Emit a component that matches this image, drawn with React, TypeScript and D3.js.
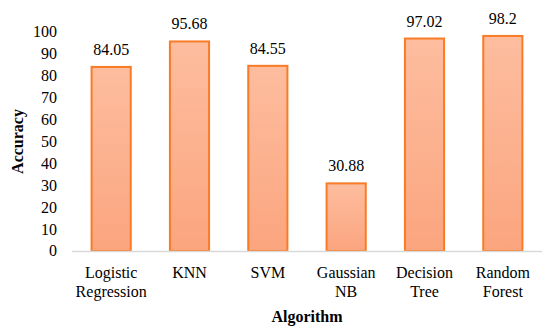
import * as d3 from "d3"
import React from "react"

// chart values
const algorithms = ["Logistic Regression", "KNN", "SVM", "Gaussian NB", "Decision Tree", "Random Forest"]
const accuracy = [84.05, 95.68, 84.55, 30.88, 97.02, 98.2]
const yTicks = [0, 10, 20, 30, 40, 50, 60, 70, 80, 90, 100]

const width = 550
const height = 333
const margins = { left: 72, right: 8, top: 32, bottom: 82 }
const font = { fontFamily: `"Liberation Serif"`, fontSize: 16 }

const App = () => {
    const scaleX = d3.scaleBand()
                    .domain(algorithms)
                    .range([margins.left, width - margins.right])
                    .paddingInner(0.5)
                    .paddingOuter(0.25)
    const scaleY = d3.scaleLinear()
                    .domain([0, 100])
                    .range([height - margins.bottom, margins.top])
    const cx = (a: string) => scaleX(a)! + scaleX.bandwidth() / 2

    return (
        <svg width={width} height={height}
             style={{ position: "absolute", left: 0, top: 0, background: "#fff" }}>
            <defs>
                <linearGradient id="barGrad" x1={0} y1={0} x2={0} y2={1}>
                    <stop offset="0%" stopColor="#fdbd9f" />
                    <stop offset="100%" stopColor="#fba57e" />
                </linearGradient>
            </defs>

            {/* y tick labels, no axis line */}
            {yTicks.map(t => (
                <text key={t} x={margins.left - 15} y={scaleY(t)} dy="0.34em"
                      textAnchor="end" style={font}>{t}</text>
            ))}

            {/* bars */}
            {accuracy.map((v, i) => (
                <rect key={algorithms[i]} x={scaleX(algorithms[i])} y={scaleY(v)}
                      width={scaleX.bandwidth()} height={scaleY(0) - scaleY(v)}
                      fill="url(#barGrad)" stroke="#f97b25" strokeWidth={2} />
            ))}

            <line x1={margins.left} x2={width - margins.right}
                  y1={scaleY(0) + 0.5} y2={scaleY(0) + 0.5}
                  stroke="#d9d9d9" strokeWidth={1.5} />

            {/* value labels */}
            {accuracy.map((v, i) => (
                <text key={"v" + i} x={cx(algorithms[i])} y={scaleY(v) - 12}
                      textAnchor="middle" style={font}>{v}</text>
            ))}

            {/* category labels */}
            {algorithms.map(a => (
                <text key={"c" + a} textAnchor="middle" style={font}>
                    {a.split(" ").map((w, j) => (
                        <tspan key={w} x={cx(a)} y={278 + j * 19}>{w}</tspan>
                    ))}
                </text>
            ))}

            <text x={(margins.left + width - margins.right) / 2} y={322}
                  textAnchor="middle" style={{ ...font, fontWeight: "bold" }}>Algorithm</text>
            <text transform={`translate(23, ${(scaleY(0) + scaleY(100)) / 2}) rotate(-90)`}
                  textAnchor="middle" style={{ ...font, fontWeight: "bold" }}>Accuracy</text>
        </svg>
    )
}

export default App
